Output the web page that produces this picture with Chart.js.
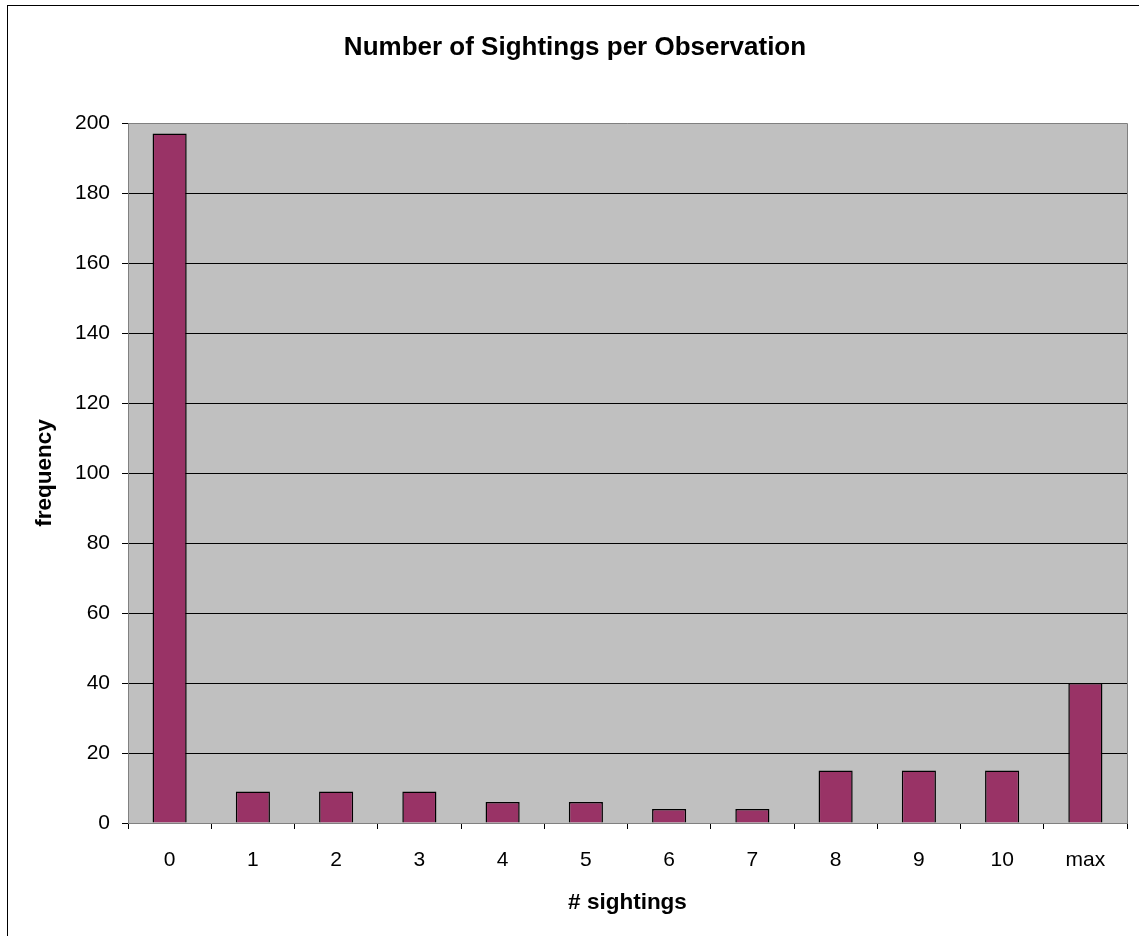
<!DOCTYPE html>
<html>
<head>
<meta charset="utf-8">
<title>Number of Sightings per Observation</title>
<script src="https://cdn.jsdelivr.net/npm/chart.js@4"></script>
<style>
  html, body { margin: 0; padding: 0; background: #fff; }
  canvas { display: block; }
</style>
</head>
<body>
<canvas id="chart" width="1139" height="936"></canvas>
<script>
// Histogram of sightings counted per observation
const categories = ['0', '1', '2', '3', '4', '5', '6', '7', '8', '9', '10', 'max'];
const frequency = [197, 9, 9, 9, 6, 6, 4, 4, 15, 15, 15, 40];
const yTicks = [0, 20, 40, 60, 80, 100, 120, 140, 160, 180, 200];

const FONT = '"Liberation Sans", Arial, sans-serif';

// Grey plot background (under the grid), plot frame and outer chart frame
const frames = {
  id: 'frames',
  beforeDraw(chart) {
    const { ctx, chartArea: a } = chart;
    ctx.save();
    ctx.fillStyle = '#c0c0c0';
    ctx.fillRect(a.left, a.top, a.right - a.left, a.bottom - a.top);
    ctx.restore();
  },
  afterDraw(chart) {
    const { ctx, chartArea: a } = chart;
    ctx.save();
    ctx.strokeStyle = '#808080';
    ctx.lineWidth = 1;
    ctx.beginPath();
    ctx.moveTo(a.left, a.top + 0.5);
    ctx.lineTo(a.right + 0.5, a.top + 0.5);
    ctx.lineTo(a.right + 0.5, a.bottom);
    ctx.stroke();
    ctx.strokeStyle = '#000';
    ctx.strokeRect(7.5, 5.5, chart.width + 20, chart.height + 20);
    ctx.restore();
  }
};

new Chart(document.getElementById('chart'), {
  type: 'bar',
  data: {
    labels: categories,
    datasets: [{
      data: frequency,
      backgroundColor: '#993366',
      borderColor: '#000000',
      borderWidth: 1.5,
      barPercentage: 0.41,
      categoryPercentage: 1.0
    }]
  },
  options: {
    responsive: false,
    animation: false,
    devicePixelRatio: 1,
    layout: { padding: { left: 23, right: 12, top: 0, bottom: 0 } },
    plugins: {
      legend: { display: false },
      tooltip: { enabled: false },
      title: {
        display: true,
        text: 'Number of Sightings per Observation',
        color: '#000',
        font: { family: FONT, size: 26, weight: 'bold' },
        padding: { top: 32, bottom: 59.8 }
      }
    },
    scales: {
      x: {
        offset: true,
        grid: {
          offset: true,
          drawOnChartArea: false,
          drawTicks: true,
          tickLength: 6,
          tickColor: '#000'
        },
        border: { display: true, color: '#808080', width: 1 },
        ticks: {
          color: '#000',
          padding: 19,
          maxRotation: 0,
          font: { family: FONT, size: 21 }
        },
        title: {
          display: true,
          text: '# sightings',
          color: '#000',
          font: { family: FONT, size: 22.5, weight: 'bold' },
          padding: { top: 0, bottom: 20 }
        },
        afterFit(scale) { scale.height = 113; }
      },
      y: {
        min: 0,
        max: 200,
        afterBuildTicks(scale) { scale.ticks = yTicks.map(v => ({ value: v })); },
        grid: {
          color: c => (c.tick && (c.tick.value === 0 || c.tick.value === 200)) ? 'rgba(0,0,0,0)' : '#000',
          tickColor: '#000',
          tickLength: 6,
          lineWidth: 1
        },
        border: { display: true, color: '#808080', width: 1 },
        ticks: {
          color: '#000',
          padding: 12,
          font: { family: FONT, size: 21 }
        },
        title: {
          display: true,
          text: 'frequency',
          color: '#000',
          font: { family: FONT, size: 22.5, weight: 'bold' },
          padding: { top: 8.5, bottom: 0 }
        },
        afterFit(scale) { scale.width = 105; }
      }
    }
  },
  plugins: [frames]
});
</script>
</body>
</html>
